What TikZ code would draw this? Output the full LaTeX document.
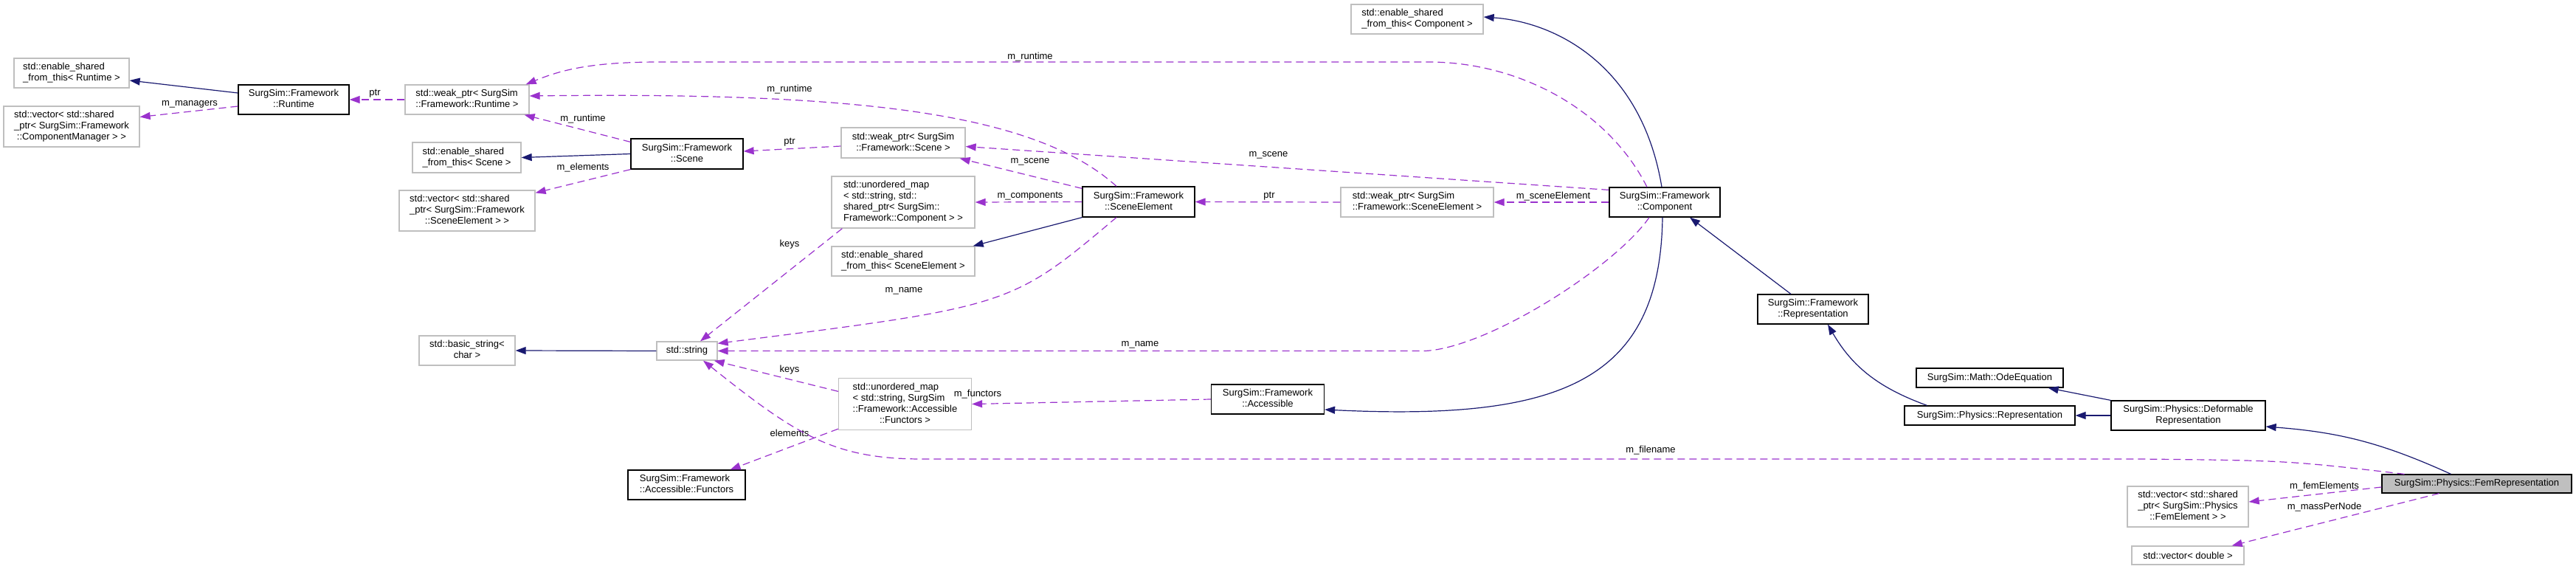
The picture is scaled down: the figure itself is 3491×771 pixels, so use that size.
\documentclass[tikz,border=0pt]{standalone}
\usepackage{fontspec}
\setmainfont{Liberation Sans}
\usetikzlibrary{arrows.meta}
\definecolor{inhblue}{RGB}{25,25,112}
\definecolor{mbrpurple}{RGB}{154,50,205}
\definecolor{extgrey}{RGB}{191,191,191}
\newcommand{\cname}[2]{\begin{tabular}{@{}l@{}}#1\\\multicolumn{1}{@{}c@{}}{#2}\end{tabular}}
\begin{document}
\begin{tikzpicture}[x=1pt,y=-1pt,
  every node/.style={font=\fontsize{13}{15}\selectfont, inner sep=0pt},
  cls/.style 2 args={minimum width=#1pt, minimum height=#2pt},
  ext/.style={draw=extgrey, line width=1.3pt},
  doc/.style={draw=black, line width=1.2pt},
  focus/.style={draw=black, fill=extgrey, line width=1.2pt},
  lbl/.style={},
  inh/.style={draw=inhblue, line width=1.2pt, -{Triangle[length=14pt,width=10pt]}},
  member/.style={draw=mbrpurple, line width=1.2pt, dash pattern=on 10pt off 6pt,
    -{Triangle[length=14pt,width=10pt]}}]
  \useasboundingbox (0,0) rectangle (3491,771);

  \node[ext, cls={156}{40}] (esftRuntime) at (97,99) {\cname{std::enable\_shared}{\_from\_this< Runtime >}};
  \node[ext, cls={184}{55}] (vecCompMgr) at (97,171.5) {\cname{std::vector< std::shared\\\_ptr< SurgSim::Framework}{::ComponentManager > >}};
  \node[doc, cls={150}{40}] (runtime) at (398,135) {\cname{SurgSim::Framework}{::Runtime}};
  \node[ext, cls={168}{40}] (weakRuntime) at (633,135) {\cname{std::weak\_ptr< SurgSim}{::Framework::Runtime >}};
  \node[ext, cls={147}{41}] (esftScene) at (632.5,213.5) {\cname{std::enable\_shared}{\_from\_this< Scene >}};
  \node[doc, cls={152}{41}] (scene) at (931,208.5) {\cname{SurgSim::Framework}{::Scene}};
  \node[ext, cls={184}{55}] (vecSceneElem) at (633,285.5) {\cname{std::vector< std::shared\\\_ptr< SurgSim::Framework}{::SceneElement > >}};
  \node[ext, cls={168}{41}] (weakScene) at (1224,193.5) {\cname{std::weak\_ptr< SurgSim}{::Framework::Scene >}};
  \node[ext, cls={194}{70}] (umapComp) at (1224,274) {\cname{std::unordered\_map\\< std::string, std::\\shared\_ptr< SurgSim::}{Framework::Component > >}};
  \node[doc, cls={152}{41}] (sceneElem) at (1543,273.5) {\cname{SurgSim::Framework}{::SceneElement}};
  \node[ext, cls={194}{40}] (esftSceneElem) at (1224,354) {\cname{std::enable\_shared}{\_from\_this< SceneElement >}};
  \node[ext, cls={130}{40}] (basicString) at (633,475) {\cname{std::basic\_string<}{char >}};
  \node[ext, cls={82}{25}] (string) at (931,475.5) {std::string};
  \node[ext, cls={180}{70}] (umapFunc) at (1226.5,547.5) {\cname{std::unordered\_map\\< std::string, SurgSim\\::Framework::Accessible}{::Functors >}};
  \node[doc, cls={159}{40}] (functors) at (930.5,657) {\cname{SurgSim::Framework}{::Accessible::Functors}};
  \node[doc, cls={153}{40}] (accessible) at (1718,541) {\cname{SurgSim::Framework}{::Accessible}};
  \node[ext, cls={179}{40}] (esftComp) at (1920.5,26) {\cname{std::enable\_shared}{\_from\_this< Component >}};
  \node[ext, cls={207}{40}] (weakSceneElem) at (1920.5,274) {\cname{std::weak\_ptr< SurgSim}{::Framework::SceneElement >}};
  \node[doc, cls={150}{40}] (component) at (2256,274) {\cname{SurgSim::Framework}{::Component}};
  \node[doc, cls={150}{40}] (fwRep) at (2457,419) {\cname{SurgSim::Framework}{::Representation}};
  \node[doc, cls={199}{26}] (odeEq) at (2696.5,512) {SurgSim::Math::OdeEquation};
  \node[doc, cls={231}{26}] (physRep) at (2696.5,563) {SurgSim::Physics::Representation};
  \node[doc, cls={209}{40}] (deformable) at (2965.5,563) {\cname{SurgSim::Physics::Deformable}{Representation}};
  \node[focus, cls={257}{25}] (fem) at (3356.5,655.5) {SurgSim::Physics::FemRepresentation};
  \node[ext, cls={164}{55}] (vecFemElem) at (2965,686.5) {\cname{std::vector< std::shared\\\_ptr< SurgSim::Physics}{::FemElement > >}};
  \node[ext, cls={152}{25}] (vecDouble) at (2965,752.5) {std::vector< double >};

  \node[lbl] (lManagers) at (257,141) {m\_managers};
  \node[lbl] (lPtrRuntime) at (508,127) {ptr};
  \node[lbl] (lRuntimeScene) at (790,161) {m\_runtime};
  \node[lbl] (lElements) at (790,227) {m\_elements};
  \node[lbl] (lRuntimeElem) at (1070,121) {m\_runtime};
  \node[lbl] (lPtrScene) at (1070,193) {ptr};
  \node[lbl] (lRuntimeComp) at (1396,77) {m\_runtime};
  \node[lbl] (lSceneElem) at (1396,219) {m\_scene};
  \node[lbl] (lSceneComp) at (1719,210) {m\_scene};
  \node[lbl] (lComponents) at (1396,266) {m\_components};
  \node[lbl] (lPtrElem) at (1720,266) {ptr};
  \node[lbl] (lSceneElement) at (2105,266) {m\_sceneElement};
  \node[lbl] (lKeysComp) at (1070,331) {keys};
  \node[lbl] (lNameElem) at (1225,394) {m\_name};
  \node[lbl] (lNameComp) at (1545,467) {m\_name};
  \node[lbl] (lKeysFunc) at (1070,501) {keys};
  \node[lbl] (lFuncElements) at (1070,587) {elements};
  \node[lbl] (lFunctors) at (1325,534) {m\_functors};
  \node[lbl] (lFilename) at (2237,610) {m\_filename};
  \node[lbl] (lFemElements) at (3150,659) {m\_femElements};
  \node[lbl] (lMassPerNode) at (3150,687) {m\_massPerNode};

  \draw[inh] ([yshift=9pt]runtime.west) -- ([yshift=-10pt]esftRuntime.east);
  \draw[inh] (scene.west) -- (esftScene.east);
  \draw[inh] (sceneElem.south west) -- ([xshift=-3pt]esftSceneElem.north east);
  \draw[inh] (string.west) -- (basicString.east);
  \draw[inh] ([xshift=-4pt]component.north) .. controls (2225,90) and (2110,30) .. ([yshift=3pt]esftComp.east);
  \draw[inh] ([xshift=-3pt]component.south) .. controls (2250,520) and (2110,570) .. ([yshift=-14pt]accessible.east);
  \draw[inh] ([xshift=-30pt]fwRep.north) -- ([xshift=34pt]component.south);
  \draw[inh] ([xshift=-85pt]physRep.north) to[out=160,in=-60] ([xshift=20pt]fwRep.south);
  \draw[inh] (deformable.north west) -- ([xshift=-21pt]odeEq.south east);
  \draw[inh] (deformable.west) -- (physRep.east);
  \draw[inh] ([xshift=-35pt]fem.north) to[bend right=10] ([yshift=-15pt]deformable.east);

  \draw[member] ([yshift=-9pt]runtime.west) -- ([yshift=13pt]vecCompMgr.east);
  \draw[member] (weakRuntime.west) -- (runtime.east);
  \draw[member] ([yshift=-5pt]scene.north west) -- ([xshift=-7pt]weakRuntime.south east);
  \draw[member] (scene.south west) -- ([yshift=-4pt]vecSceneElem.north east);
  \draw[member] ([yshift=-4.5pt]weakScene.west) -- ([yshift=3.5pt]scene.east);
  \draw[member] ([xshift=-30pt]sceneElem.north) .. controls (1400,150) and (1150,125) .. ([yshift=5pt]weakRuntime.east);
  \draw[member] ([xshift=-24pt]component.north) .. controls (2180,150) and (2060,84) .. (1936,84)
    -- (894,84) .. controls (800,84) and (760,95) .. ([xshift=-5pt]weakRuntime.north east);
  \draw[member] ([yshift=-3pt]sceneElem.north west) -- ([xshift=-8pt]weakScene.south east);
  \draw[member] ([yshift=-4pt]component.north west) -- ([yshift=-5pt]weakScene.east);
  \draw[member] (sceneElem.west) -- (umapComp.east);
  \draw[member] (weakSceneElem.west) -- (sceneElem.east);
  \draw[member] (component.west) -- (weakSceneElem.east);
  \draw[member] ([xshift=15pt]umapComp.south west) -- ([xshift=18pt]string.north);
  \draw[member] ([xshift=-30pt]sceneElem.south) .. controls (1370,415) .. ([yshift=-3pt]string.north east);
  \draw[member] ([xshift=-21pt]component.south) .. controls (2190,360) and (2020,470) .. (1932,475.5) -- (string.east);
  \draw[member] ([yshift=-18.5pt]umapFunc.north west) -- ([xshift=-5pt]string.south east);
  \draw[member] ([xshift=-98pt]fem.north) .. controls (3100,624) .. (2900,622) -- (1250,622)
    .. controls (1130,622) and (1080,590) .. ([xshift=22pt]string.south);
  \draw[member] ([yshift=2pt]umapFunc.south west) -- ([xshift=-21pt]functors.north east);
  \draw[member] (accessible.west) -- (umapFunc.east);
  \draw[member] ([yshift=-4.5pt]fem.west) -- ([yshift=6.5pt]vecFemElem.east);
  \draw[member] ([xshift=-51pt]fem.south) -- ([xshift=-17pt]vecDouble.north east);
\end{tikzpicture}
\end{document}
